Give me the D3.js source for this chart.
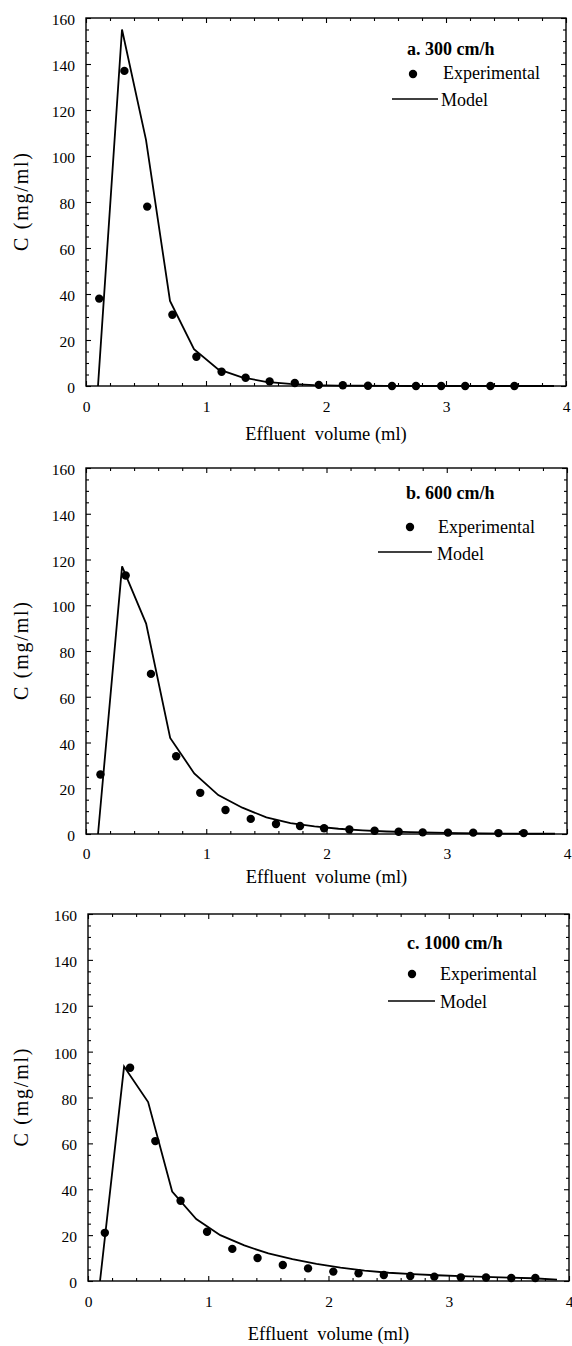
<!DOCTYPE html>
<html>
<head>
<meta charset="utf-8">
<script src="https://cdn.jsdelivr.net/npm/d3@7"></script>
<style>
  html, body { margin: 0; padding: 0; background: #fff; }
  svg { display: block; }
  text { font-family: "Liberation Serif", "Times New Roman", serif; fill: #000; }
</style>
</head>
<body>
<svg id="chart" width="572" height="1346"></svg>
<script>
// ---------------- data ----------------
const xTickLabels = [0, 1, 2, 3, 4];
const yTickLabels = [0, 20, 40, 60, 80, 100, 120, 140, 160];
const xTitle = "Effluent  volume (ml)";
const yTitle = "C (mg/ml)";
const legendExp = "Experimental";
const legendModel = "Model";
const panelTitles = ["a. 300 cm/h", "b. 600 cm/h", "c. 1000 cm/h"];

// model curve x positions (ml)
const modelX = [0.1, 0.3, 0.5, 0.7, 0.9, 1.1, 1.3, 1.5, 1.7, 1.9, 2.1, 2.3, 2.5, 2.7, 2.9, 3.1, 3.3, 3.5, 3.7, 3.9];

// a. 300 cm/h
const expXA = [0.11, 0.32, 0.51, 0.72, 0.92, 1.13, 1.33, 1.53, 1.74, 1.94, 2.14, 2.35, 2.55, 2.75, 2.96, 3.16, 3.37, 3.57];
const expYA = [38, 137, 78, 31, 12.7, 6.2, 3.6, 2.0, 1.3, 0.5, 0.3, 0.1, 0, 0, 0, 0, 0, 0];
const modelYA = [0, 155, 107, 37, 16, 7.3, 3.8, 1.8, 0.9, 0.4, 0.2, 0.1, 0.05, 0, 0, 0, 0, 0, 0, 0];

// b. 600 cm/h
const expXB = [0.12, 0.33, 0.54, 0.75, 0.95, 1.16, 1.37, 1.58, 1.78, 1.98, 2.19, 2.40, 2.60, 2.80, 3.01, 3.22, 3.43, 3.64];
const expYB = [26, 113, 70, 34, 18, 10.5, 6.6, 4.4, 3.5, 2.5, 2.0, 1.4, 1.0, 0.7, 0.6, 0.6, 0.4, 0.4];
const modelYB = [0, 117, 92, 42, 26.5, 17, 11.5, 7.3, 4.8, 3.3, 2.3, 1.6, 1.1, 0.8, 0.6, 0.4, 0.3, 0.2, 0.1, 0.1];

// c. 1000 cm/h
const expXC = [0.14, 0.35, 0.56, 0.77, 0.99, 1.20, 1.41, 1.62, 1.83, 2.04, 2.25, 2.46, 2.68, 2.88, 3.10, 3.31, 3.52, 3.72];
const expYC = [21, 93, 61, 35, 21.5, 14, 10, 7, 5.5, 4.1, 3.4, 2.6, 2.2, 1.9, 1.6, 1.5, 1.3, 1.3];
const modelYC = [0, 93.5, 78, 39, 27, 20, 15.5, 12, 9.5, 7.5, 5.8, 4.5, 3.6, 3.0, 2.5, 2.1, 1.8, 1.5, 1.2, 0.6];

// ---------------- layout ----------------
const layouts = [
  { left: 86, right: 566, top: 18,  bottom: 386,  xPad: 15, xTitleY: 440,
    title: [407, 55], dot: [413, 74], exp: [443, 79], line: [392, 438, 99], model: [441, 106] },
  { left: 86, right: 567, top: 468, bottom: 834,  xPad: 13.5, xTitleY: 883,
    title: [406, 499], dot: [410, 527], exp: [438, 533], line: [378, 432, 552], model: [437, 560] },
  { left: 88, right: 569, top: 914, bottom: 1281, xPad: 15, xTitleY: 1340,
    title: [407, 949], dot: [412, 974], exp: [440, 980], line: [388, 435, 1001], model: [440, 1008] }
];
const panelData = [
  { ex: expXA, ey: expYA, my: modelYA },
  { ex: expXB, ey: expYB, my: modelYB },
  { ex: expXC, ey: expYC, my: modelYC }
];

const FONT = '"Liberation Serif", "Times New Roman", serif';
const svg = d3.select("#chart");
const xMinor = d3.range(0, 4.0001, 0.2).map(v => +v.toFixed(1)).filter(v => !xTickLabels.includes(v));
const yMinor = d3.range(0, 160.001, 5).filter(v => !yTickLabels.includes(v));

layouts.forEach((L, i) => {
  const D = panelData[i];
  const x = d3.scaleLinear().domain([0, 4]).range([L.left, L.right]);
  const y = d3.scaleLinear().domain([0, 160]).range([L.bottom, L.top]);
  const g = svg.append("g");

  const styleAxis = sel => {
    sel.attr("font-family", FONT);
    sel.select(".domain").remove();
    sel.selectAll("line").attr("stroke", "#000").attr("stroke-width", 1.1);
  };

  // left axis (major with labels)
  g.append("g").attr("transform", `translate(${L.left},0)`)
    .call(d3.axisLeft(y).tickValues(yTickLabels).tickSize(-5).tickPadding(11).tickFormat(d3.format("d")))
    .call(styleAxis)
    .call(s => s.selectAll("text").attr("font-size", "15.5px").attr("dy", "0.42em"));
  g.append("g").attr("transform", `translate(${L.left},0)`)
    .call(d3.axisLeft(y).tickValues(yMinor).tickSize(-3).tickFormat(""))
    .call(styleAxis);
  // right axis
  g.append("g").attr("transform", `translate(${L.right},0)`)
    .call(d3.axisRight(y).tickValues(yTickLabels).tickSize(-5).tickFormat(""))
    .call(styleAxis);
  g.append("g").attr("transform", `translate(${L.right},0)`)
    .call(d3.axisRight(y).tickValues(yMinor).tickSize(-3).tickFormat(""))
    .call(styleAxis);
  // bottom axis
  g.append("g").attr("transform", `translate(0,${L.bottom})`)
    .call(d3.axisBottom(x).tickValues(xTickLabels).tickSize(-5).tickPadding(L.xPad).tickFormat(d3.format("d")))
    .call(styleAxis)
    .call(s => s.selectAll("text").attr("font-size", "15.5px"));
  g.append("g").attr("transform", `translate(0,${L.bottom})`)
    .call(d3.axisBottom(x).tickValues(xMinor).tickSize(-3).tickFormat(""))
    .call(styleAxis);
  // top axis
  g.append("g").attr("transform", `translate(0,${L.top})`)
    .call(d3.axisTop(x).tickValues(xTickLabels).tickSize(-5).tickFormat(""))
    .call(styleAxis);
  g.append("g").attr("transform", `translate(0,${L.top})`)
    .call(d3.axisTop(x).tickValues(xMinor).tickSize(-3).tickFormat(""))
    .call(styleAxis);

  // frame
  g.append("rect")
    .attr("x", L.left).attr("y", L.top)
    .attr("width", L.right - L.left).attr("height", L.bottom - L.top)
    .attr("fill", "none").attr("stroke", "#000").attr("stroke-width", 1.4);

  // model line
  const line = d3.line().x(d => x(d[0])).y(d => y(d[1]));
  g.append("path")
    .datum(modelX.map((v, k) => [v, D.my[k]]))
    .attr("d", line)
    .attr("fill", "none").attr("stroke", "#000").attr("stroke-width", 1.8)
    .attr("stroke-linejoin", "miter");

  // experimental points
  g.selectAll("circle.pt")
    .data(D.ex.map((v, k) => [v, D.ey[k]]))
    .join("circle").attr("class", "pt")
    .attr("cx", d => x(d[0])).attr("cy", d => y(d[1]))
    .attr("r", 4.2).attr("fill", "#000");

  // axis titles
  g.append("text")
    .attr("x", (L.left + L.right) / 2).attr("y", L.xTitleY)
    .attr("text-anchor", "middle").attr("font-size", "18.5px")
    .style("white-space", "pre")
    .text(xTitle);
  g.append("text")
    .attr("transform", `translate(28,${(L.top + L.bottom) / 2}) rotate(-90)`)
    .attr("text-anchor", "middle").attr("font-size", "20px")
    .attr("textLength", 98).attr("lengthAdjust", "spacing")
    .text(yTitle);

  // legend
  g.append("text").attr("x", L.title[0]).attr("y", L.title[1])
    .attr("font-size", "18px").attr("font-weight", "bold").text(panelTitles[i]);
  g.append("circle").attr("cx", L.dot[0]).attr("cy", L.dot[1]).attr("r", 4.2).attr("fill", "#000");
  g.append("text").attr("x", L.exp[0]).attr("y", L.exp[1])
    .attr("font-size", "18px").text(legendExp);
  g.append("line").attr("x1", L.line[0]).attr("x2", L.line[1])
    .attr("y1", L.line[2]).attr("y2", L.line[2])
    .attr("stroke", "#000").attr("stroke-width", 1.5);
  g.append("text").attr("x", L.model[0]).attr("y", L.model[1])
    .attr("font-size", "18px").text(legendModel);
});
</script>
</body>
</html>
